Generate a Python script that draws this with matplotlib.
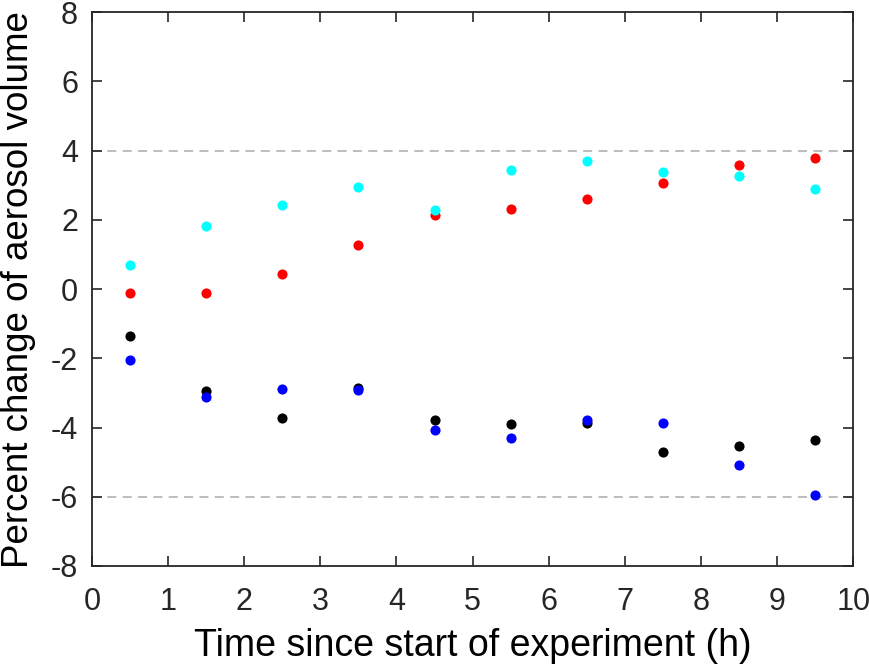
import matplotlib
matplotlib.use("Agg")
import matplotlib.pyplot as plt

plt.rcParams['font.family'] = ['Liberation Sans', 'DejaVu Sans']
plt.rcParams['axes.unicode_minus'] = False

# hours since start
hours = [0.5, 1.5, 2.5, 3.5, 4.5, 5.5, 6.5, 7.5, 8.5, 9.5]

black_vals = [-1.36, -2.93, -3.72, -2.87, -3.78, -3.90, -3.86, -4.71, -4.53, -4.36]
blue_vals = [-2.06, -3.13, -2.88, -2.91, -4.08, -4.30, -3.79, -3.87, -5.08, -5.94]
red_vals = [-0.12, -0.12, 0.43, 1.27, 2.15, 2.31, 2.60, 3.06, 3.58, 3.79]
cyan_vals = [0.70, 1.82, 2.42, 2.95, 2.29, 3.45, 3.69, 3.38, 3.27, 2.90]

ref_lines = [4, -6]

xticks = list(range(0, 11))
yticks = list(range(-8, 9, 2))

fig = plt.figure(figsize=(8.7, 6.68), dpi=100)
ax = fig.add_axes([0.1057, 0.1527, 0.875, 0.829])

for yv in ref_lines:
    ax.axhline(yv, color='#b8b8b8', lw=1.3, dashes=(5, 3.5), zorder=1)

ax.plot(hours, black_vals, 'o', color='black', ms=7.3, mec='none', zorder=3)
ax.plot(hours, blue_vals, 'o', color='blue', ms=7.3, mec='none', zorder=3)
ax.plot(hours, red_vals, 'o', color='red', ms=7.3, mec='none', zorder=3)
ax.plot(hours, cyan_vals, 'o', color='cyan', ms=7.3, mec='none', zorder=3)

ax.set_xlim(0, 10)
ax.set_ylim(-8, 8)
ax.set_xticks(xticks)
ax.set_yticks(yticks)

dark = '#262626'
for s in ax.spines.values():
    s.set_color(dark)
    s.set_linewidth(1.3)
ax.tick_params(direction='in', length=7, width=1.2, colors=dark,
               top=True, right=True, labelsize=22)
ax.tick_params(axis='x', pad=15)
ax.tick_params(axis='y', pad=10)
for lab in ax.get_xticklabels() + ax.get_yticklabels():
    lab.set_color(dark)

ax.set_xlabel('Time since start of experiment (h)', fontsize=27, labelpad=8)
ax.set_ylabel('Percent change of aerosol volume', fontsize=26.5, labelpad=11)

fig.savefig('out.png', dpi=100)
